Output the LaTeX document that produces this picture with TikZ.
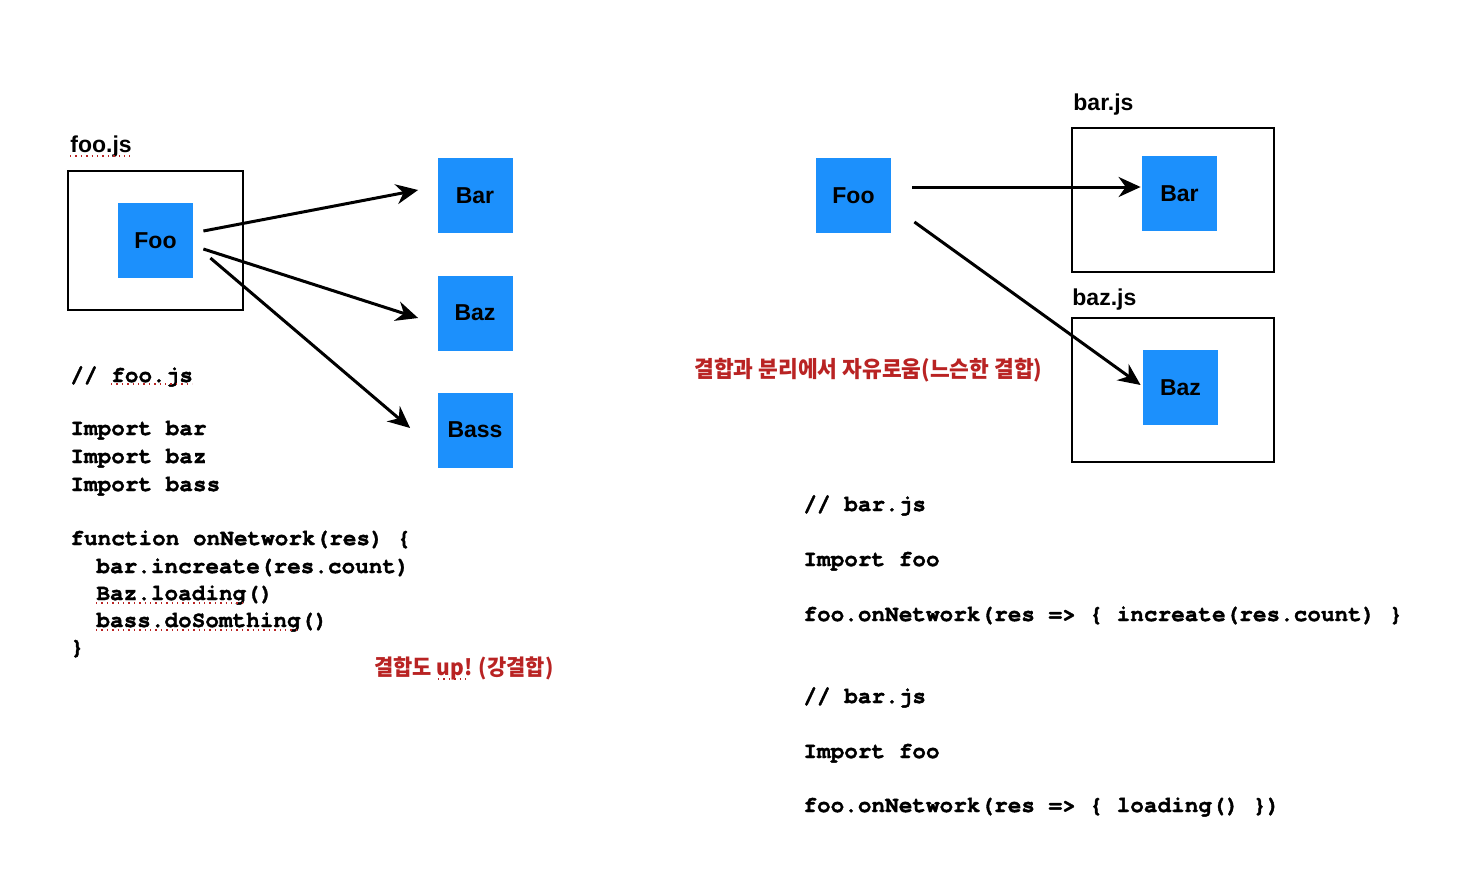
\documentclass[tikz,border=0pt]{standalone}
\usepackage{fontspec}
\setmainfont{Liberation Sans}
\newfontfamily\codefont{TeX Gyre Cursor}[BoldFeatures={FakeBold=1.6}]
\newfontfamily\kr{Noto Sans CJK KR}[FakeStretch=0.95]
\usetikzlibrary{arrows.meta,calc}
\definecolor{boxblue}{RGB}{28,144,252}
\definecolor{krred}{RGB}{185,35,35}
\tikzset{
  mod/.style={fill=boxblue, minimum width=37.5pt, minimum height=37.5pt, inner sep=0pt, font=\fontsize{11.5}{12}\selectfont\bfseries},
  file/.style={draw=black, line width=1.3pt, inner sep=0pt},
  flabel/.style={anchor=base west, inner sep=0pt, font=\fontsize{11.5}{12}\selectfont\bfseries},
  code/.style={anchor=base west, inner sep=0pt, font=\codefont\fontsize{11.35}{12}\selectfont\bfseries},
  note/.style={anchor=base west, inner sep=0pt, text=krred, font=\kr\fontsize{11}{12}\selectfont\bfseries},
  dep/.style={line width=1.5pt, -{Stealth[length=11pt,width=10pt]}},
  spell/.style={krred, line width=0.7pt, dotted}
}
\begin{document}
\begin{tikzpicture}[x=0.5pt,y=-0.5pt]
\path[use as bounding box, fill=white] (0,0) rectangle (1474,874);

% ---------- left part ----------
\node[flabel] (foojs) at (70,152) {foo.js};
\node[file, minimum width=87.5pt, minimum height=69.5pt] (foofile) at (155.5,240.5) {};
\node[mod] (foo) at (155.5,240.5) {Foo};
\node[mod] (bar) at (475,195.5) {Bar};
\node[mod] (baz) at (475,313) {Baz};
\node[mod] (bass) at (475,430) {Bass};

\draw[dep] ($(foo.east)+(10,-9.5)$) -- ($(bar.west)+(-19,-5.5)$);
\draw[dep] ($(foo.east)+(10,8.5)$) -- ($(baz.west)+(-19,5)$);
\draw[dep] ($(foo.east)+(17,17.5)$) -- ($(bass.west)+(-27,-2)$);

\node[code] (c1) at (70,382) {// foo.js};
\node[code] (c2) at (70,435) {Import bar};
\node[code] (c3) at (70,463) {Import baz};
\node[code] (c4) at (70,491) {Import bass};
\node[code] (c5) at (70,545) {function onNetwork(res) \{};
\node[code] (c6) at (96,573) {bar.increate(res.count)};
\node[code] (c7) at (96,600) {Baz.loading()};
\node[code] (c8) at (96,627) {bass.doSomthing()};
\node[code] (c9) at (70,654) {\}};

\node[note] (n1) at (374,675) {결합도 up! (강결합)};

\draw[spell] (70,156) -- (130,156);
\draw[spell] (111,384) -- (192,384);
\draw[spell] (96,603) -- (246,603);
\draw[spell] (96,630) -- (300,630);
\draw[spell] (438,679) -- (470,679);

% ---------- right part ----------
\node[mod] (foo2) at (853.5,195.5) {Foo};
\node[flabel] (barjs) at (1073,110) {bar.js};
\node[file, minimum width=101pt, minimum height=72pt] (barfile) at (1173,200) {};
\node[mod] (bar2) at (1179.5,193.5) {Bar};
\node[flabel] (bazjs) at (1072,305) {baz.js};
\node[file, minimum width=101pt, minimum height=72pt] (bazfile) at (1173,390) {};
\node[mod] (baz2) at (1180.5,387.5) {Baz};

\draw[dep] ($(foo2.east)+(21,-8.5)$) -- ($(bar2.west)+(-1,-6.5)$);
\draw[dep] ($(foo2.east)+(23,26.5)$) -- ($(baz2.west)+(-2,-2.5)$);

\node[note, font=\kr\fontsize{11.3}{12}\selectfont\bfseries] (n2) at (694,377) {결합과 분리에서 자유로움(느슨한 결합)};

\node[code] (r1) at (803,511) {// bar.js};
\node[code] (r2) at (803,566) {Import foo};
\node[code] (r3) at (803,621) {foo.onNetwork(res => \{ increate(res.count) \}};
\node[code] (r4) at (803,703) {// bar.js};
\node[code] (r5) at (803,758) {Import foo};
\node[code] (r6) at (803,812) {foo.onNetwork(res => \{ loading() \})};
\end{tikzpicture}
\end{document}
